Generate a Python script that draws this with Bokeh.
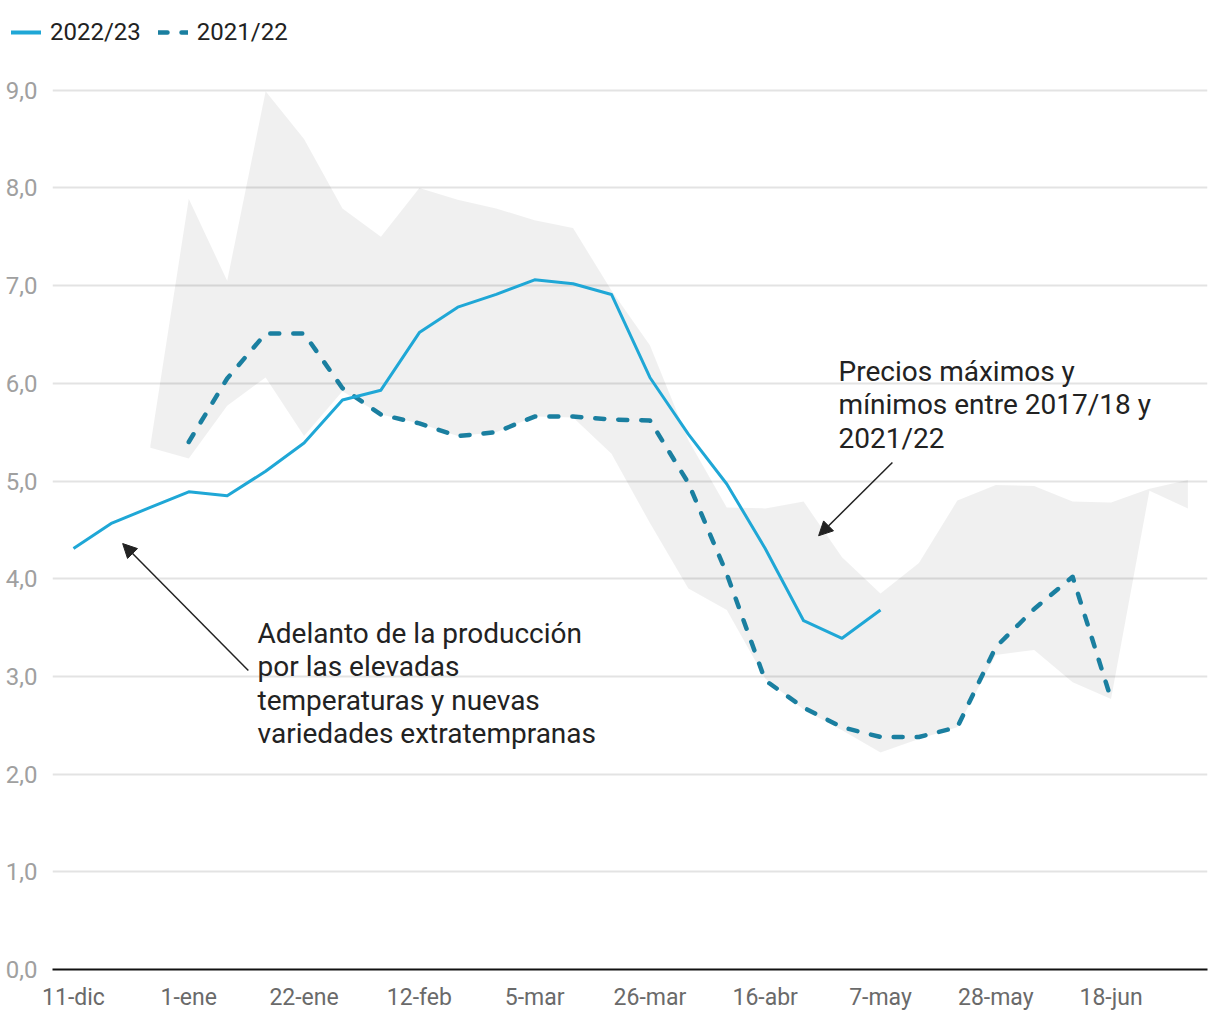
from bokeh.plotting import figure
from bokeh.layouts import column
from bokeh.models import (Range1d, FixedTicker, Legend, LegendItem, Arrow, NormalHead,
                          ColumnDataSource)
from bokeh.core.properties import value
from bokeh.embed import file_html
from bokeh.resources import INLINE

# ---------------- data ----------------
tick_weeks = [0, 3, 6, 9, 12, 15, 18, 21, 24, 27]
tick_labels = ["11-dic", "1-ene", "22-ene", "12-feb", "5-mar", "26-mar",
               "16-abr", "7-may", "28-may", "18-jun"]
y_ticks = [0, 1, 2, 3, 4, 5, 6, 7, 8, 9]
y_labels = ["0,0", "1,0", "2,0", "3,0", "4,0", "5,0", "6,0", "7,0", "8,0", "9,0"]

series_names = ["2022/23", "2021/22"]

# 2022/23 season, weekly from 11-dic (week 0)
weeks_2223 = list(range(0, 22))
price_2223 = [4.31, 4.57, 4.73, 4.89, 4.85, 5.10, 5.39, 5.83, 5.93, 6.52, 6.78,
              6.91, 7.06, 7.02, 6.91, 6.06, 5.48, 4.97, 4.31, 3.57, 3.39, 3.68]

# 2021/22 season, weekly from 1-ene (week 3)
weeks_2122 = list(range(3, 28))
price_2122 = [5.40, 6.05, 6.51, 6.51, 5.95, 5.68, 5.59, 5.46, 5.50, 5.66, 5.66,
              5.63, 5.62, 4.98, 4.05, 2.96, 2.68, 2.48, 2.38, 2.38, 2.48, 3.30,
              3.69, 4.02, 2.77]

# max / min band 2017/18 - 2021/22, weeks 2..29
weeks_band = list(range(2, 30))
band_max = [5.36, 7.89, 7.05, 8.99, 8.50, 7.79, 7.50, 8.00, 7.88, 7.79, 7.67,
            7.59, 6.95, 6.39, 5.42, 4.73, 4.72, 4.79, 4.22, 3.85, 4.16, 4.80,
            4.96, 4.95, 4.79, 4.78, 4.92, 5.01]
band_min = [5.34, 5.23, 5.77, 6.06, 5.46, 5.92, 5.68, 5.59, 5.46, 5.50, 5.66,
            5.65, 5.28, 4.57, 3.90, 3.68, 2.98, 2.66, 2.45, 2.22, 2.36, 2.48,
            3.22, 3.27, 2.94, 2.77, 4.90, 4.72]

ann1_lines = ["Adelanto de la producción", "por las elevadas",
              "temperaturas y nuevas", "variedades extratempranas"]
ann2_lines = ["Precios máximos y", "mínimos entre 2017/18 y", "2021/22"]

# ---------------- styles ----------------
FONT = "Roboto"
C_2223 = "#1fa7d6"
C_2122 = "#1a7fa0"
STYLE_2223 = dict(line_color=C_2223, line_width=3, line_join="round")
STYLE_2122 = dict(line_color=C_2122, line_width=4.5, line_dash="9 14",
                  line_cap="round", line_join="round")

# ---------------- legend strip ----------------
lg = figure(width=1212, height=70, output_backend="svg", toolbar_location=None,
            x_range=Range1d(0, 1), y_range=Range1d(0, 1),
            x_axis_location=None, y_axis_location=None,
            min_border_left=0, min_border_right=0, min_border_top=0,
            min_border_bottom=0)
lg.frame_align = False
lg.outline_line_color = None
lg.grid.visible = False
nan = float("nan")
lr1 = lg.line(x=[nan], y=[nan], line_color=C_2223, line_width=4, line_cap="round")
lr2 = lg.line(x=[nan], y=[nan], **STYLE_2122)
legend = Legend(items=[LegendItem(label=series_names[0], renderers=[lr1]),
                       LegendItem(label=series_names[1], renderers=[lr2])],
                orientation="horizontal", location=(11, 24),
                padding=0, margin=0, spacing=17, glyph_width=30, glyph_height=28,
                label_standoff=9, label_text_font=FONT, label_text_font_size="24px",
                label_text_color="#222222", border_line_color=None,
                background_fill_alpha=0)
lg.add_layout(legend, "center")

# ---------------- main chart ----------------
p = figure(width=1212, height=950, output_backend="svg", toolbar_location=None,
           x_range=Range1d(-0.546, 29.51), y_range=Range1d(0, 9.1),
           min_border_left=52, min_border_right=5, min_border_top=10,
           min_border_bottom=51)
p.frame_align = False
p.outline_line_color = None
p.background_fill_color = "white"
p.border_fill_color = "white"

p.xgrid.visible = False
p.ygrid.grid_line_color = "#e3e3e3"
p.ygrid.grid_line_width = 2

p.xaxis.ticker = FixedTicker(ticks=tick_weeks)
p.xaxis.major_label_overrides = dict(zip(tick_weeks, tick_labels))
p.xaxis.axis_line_color = "#111111"
p.xaxis.axis_line_width = 2
p.xaxis.major_tick_line_color = None
p.xaxis.minor_tick_line_color = None
p.xaxis.major_label_text_font = FONT
p.xaxis.major_label_text_font_size = "23px"
p.xaxis.major_label_text_color = "#6a6a6a"
p.xaxis.major_label_standoff = 8

p.yaxis.ticker = FixedTicker(ticks=y_ticks)
p.yaxis.major_label_overrides = dict(zip(y_ticks, y_labels))
p.yaxis.axis_line_color = None
p.yaxis.major_tick_line_color = None
p.yaxis.minor_tick_line_color = None
p.yaxis.major_label_text_font = FONT
p.yaxis.major_label_text_font_size = "24px"
p.yaxis.major_label_text_color = "#a0a0a0"
p.yaxis.major_label_standoff = 9

# band
p.varea(x=weeks_band, y1=band_min, y2=band_max, fill_color="black", fill_alpha=0.06)

# lines
p.line(weeks_2122, price_2122, **STYLE_2122)
p.line(weeks_2223, price_2223, **STYLE_2223)

# annotations
def add_text(x, y, lines):
    src = ColumnDataSource(dict(x=[x] * len(lines), y=[y] * len(lines), t=lines,
                                yo=[i * 33.3 for i in range(len(lines))]))
    p.text(x="x", y="y", text="t", y_offset="yo", source=src,
           text_font=value(FONT), text_font_size="28px", text_color="#222222",
           text_baseline="middle", text_align="left")

add_text(4.79, 3.44, ann1_lines)
add_text(19.91, 6.12, ann2_lines)

p.add_layout(Arrow(x_start=4.55, y_start=3.06, x_end=1.28, y_end=4.36,
                   line_color="#222222", line_width=1.5,
                   end=NormalHead(size=14, fill_color="#222222", line_color="#222222")))
p.add_layout(Arrow(x_start=21.31, y_start=5.19, x_end=19.39, y_end=4.44,
                   line_color="#222222", line_width=1.5,
                   end=NormalHead(size=14, fill_color="#222222", line_color="#222222")))

layout = column(lg, p, spacing=0)
open("out.html", "w").write(file_html(layout, INLINE))
